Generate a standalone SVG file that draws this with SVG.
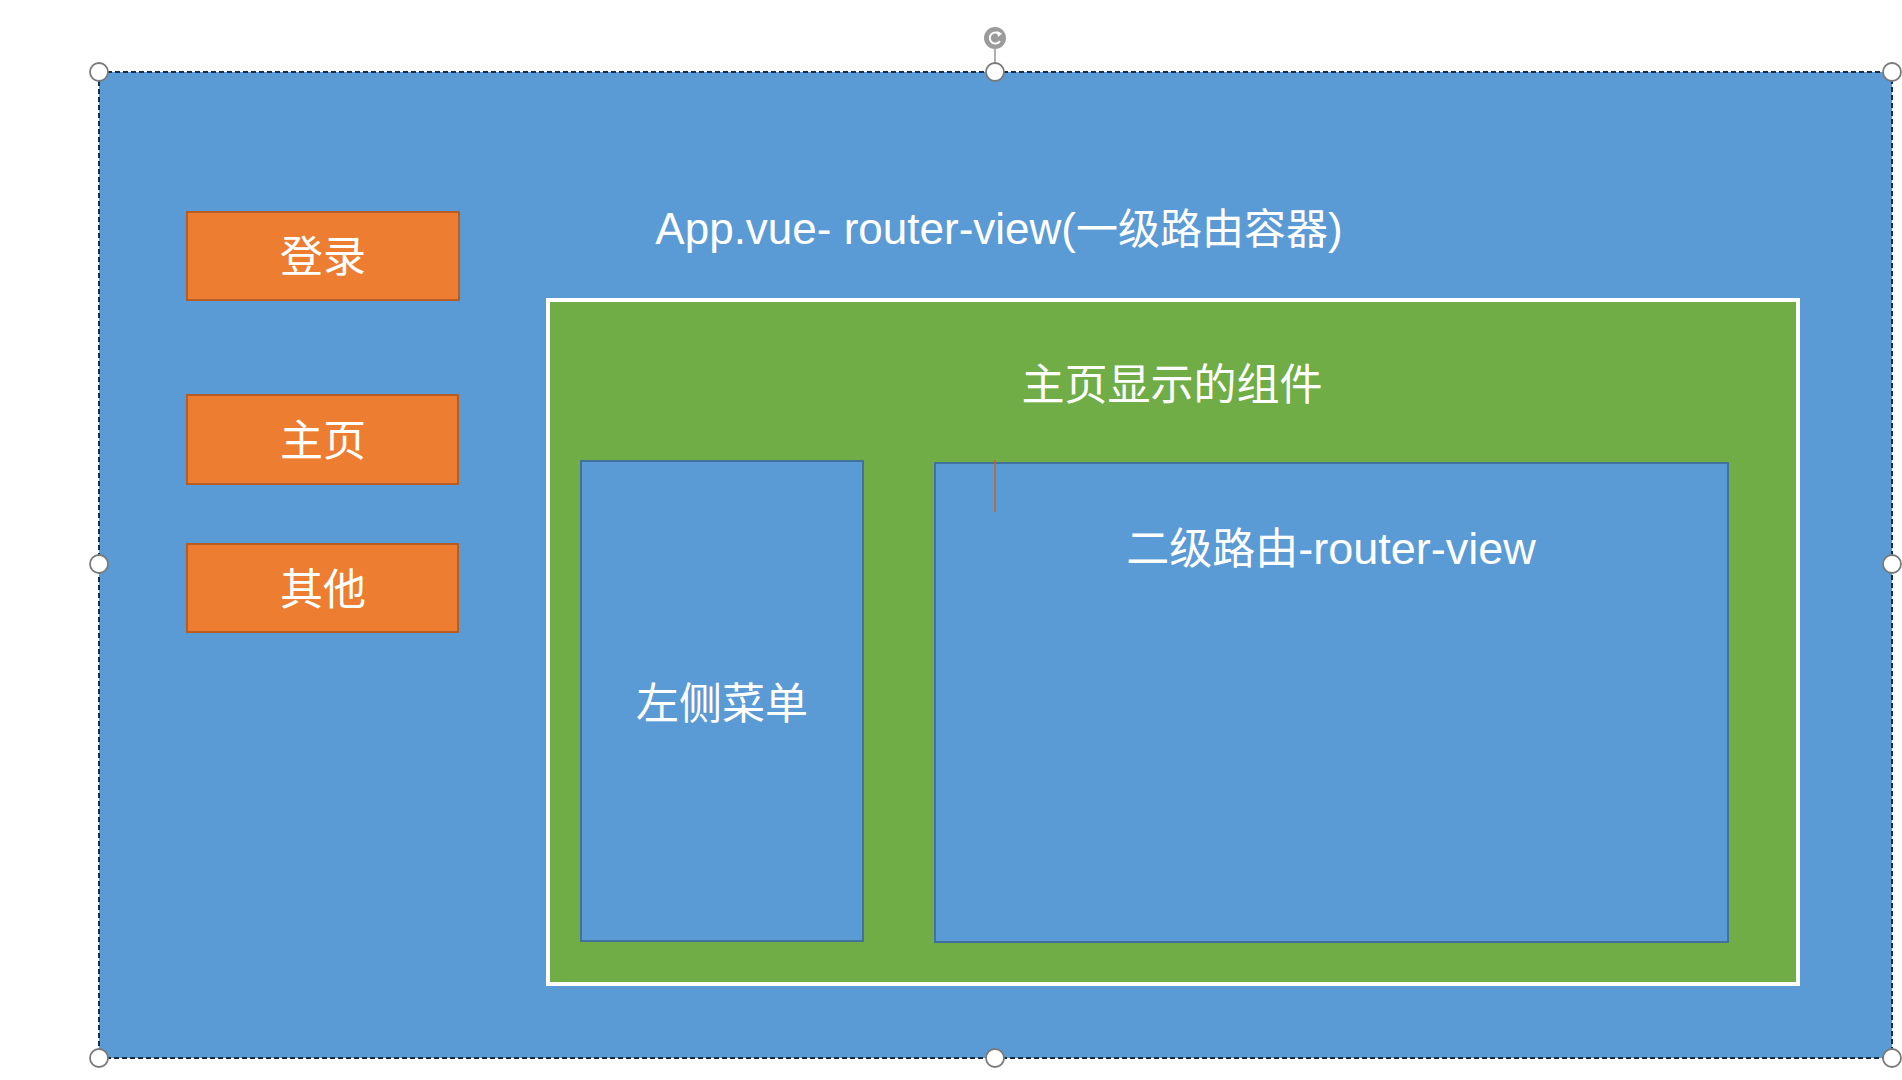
<svg xmlns="http://www.w3.org/2000/svg" width="1902" height="1080" viewBox="0 0 1902 1080">
<style>
.t{font-family:"Liberation Sans","Noto Sans CJK SC",sans-serif;fill:#ffffff;text-anchor:middle}
.cjk{font-family:"Noto Sans CJK SC",sans-serif;font-size:43px}
.btn{fill:#ed7d31;stroke:#b55d22;stroke-width:2}
.inner{fill:#5b9bd5;stroke:#41719c;stroke-width:2}
.handle{fill:#ffffff;stroke:#7a7a7a;stroke-width:1.8}
</style>
<rect width="1902" height="1080" fill="#ffffff"/>
<g id="app-container">
  <rect x="99" y="72" width="1793" height="986" fill="#5b9bd5" stroke="#1a2e45" stroke-width="2" stroke-dasharray="5 3"/>
  <text class="t" x="999" y="244" font-size="44">App.vue- router-view(<tspan font-size="42" font-family="Noto Sans CJK SC,sans-serif">一级路由容器</tspan>)</text>
</g>
<g id="btn-login">
  <rect class="btn" x="187" y="212" width="272" height="88"/>
  <text class="t cjk" x="323" y="272">登录</text>
</g>
<g id="btn-home">
  <rect class="btn" x="187" y="395" width="271" height="89"/>
  <text class="t cjk" x="323" y="456">主页</text>
</g>
<g id="btn-other">
  <rect class="btn" x="187" y="544" width="271" height="88"/>
  <text class="t cjk" x="323" y="605">其他</text>
</g>
<g id="home-component">
  <rect x="548" y="300" width="1250" height="684" fill="#70ad47" stroke="#ffffff" stroke-width="4"/>
  <text class="t cjk" x="1172" y="400">主页显示的组件</text>
</g>
<g id="left-menu">
  <rect class="inner" x="581" y="461" width="282" height="480"/>
  <text class="t cjk" x="722" y="719">左侧菜单</text>
</g>
<g id="child-router-view">
  <rect class="inner" x="935" y="463" width="793" height="479"/>
  <text class="t" x="1331" y="564" font-size="45"><tspan font-size="43" font-family="Noto Sans CJK SC,sans-serif">二级路由</tspan>-router-view</text>
</g>
<g id="connectors"></g>
<g id="selection-handles">
  <line x1="995" y1="49" x2="995" y2="63" stroke="#7a7a7a" stroke-width="1.2"/>
  <circle cx="995" cy="38" r="11" fill="#9b9b9b"/>
  <path d="M999.5 34.5 A5.5 5.5 0 1 0 1000 41" fill="none" stroke="#ffffff" stroke-width="2"/>
  <path d="M997 31 L1002 33.5 L998 37 Z" fill="#ffffff"/>
  <circle class="handle" cx="99" cy="72" r="9"/>
  <circle class="handle" cx="995" cy="72" r="9"/>
  <circle class="handle" cx="1892" cy="72" r="9"/>
  <circle class="handle" cx="99" cy="564" r="9"/>
  <circle class="handle" cx="1892" cy="564" r="9"/>
  <circle class="handle" cx="99" cy="1058" r="9"/>
  <circle class="handle" cx="995" cy="1058" r="9"/>
  <circle class="handle" cx="1892" cy="1058" r="9"/>
  <line x1="995" y1="460" x2="995" y2="512" stroke="#c0652a" stroke-width="1.6"/>
</g>
</svg>
